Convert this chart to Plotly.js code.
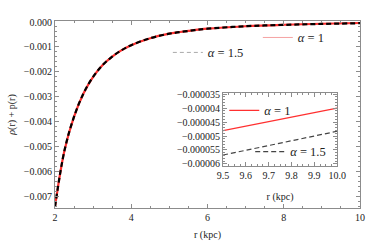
<!DOCTYPE html>
<html>
<head>
<meta charset="utf-8">
<script src="https://cdn.plot.ly/plotly-3.0.1.min.js"></script>
<style>html,body{margin:0;padding:0;background:#fff;}#chart{width:382px;height:247px;}</style>
</head>
<body>
<div id="chart"></div>
<script>
// main panel data
const rMain = [2, 2.25, 2.5, 2.75, 3, 3.25, 3.5, 3.75, 4, 4.5, 5, 5.5, 6, 7, 8, 9, 10];
const alpha1Main = [-0.00742, -0.00515, -0.00380, -0.00286, -0.00220, -0.00173, -0.00139, -0.00113, -0.00093, -0.00065, -0.00047, -0.00036, -0.00027, -0.00017, -0.00011, -0.00007, -0.00004];
const alpha15Main = [-0.00742, -0.00515, -0.00380, -0.00286, -0.00220, -0.00173, -0.00139, -0.00113, -0.00093, -0.00065, -0.00047, -0.00036, -0.00027, -0.00017, -0.000115, -0.000078, -0.000048];
// inset data
const rInset = [9.5, 9.6, 9.7, 9.8, 9.9, 10.0];
const alpha1Inset = [-0.0000481, -0.0000465, -0.0000448, -0.0000432, -0.0000416, -0.0000400];
const alpha15Inset = [-0.0000568, -0.0000551, -0.0000534, -0.0000517, -0.0000500, -0.0000483];
const insetYTicks = [-0.000035, -0.00004, -0.000045, -0.00005, -0.000055, -0.00006];
const insetYLabels = ['\u22120.000035', '\u22120.00004', '\u22120.000045', '\u22120.00005', '\u22120.000055', '\u22120.00006'];
const mainXTicks = [2, 4, 6, 8, 10];
const insetXTicks = [9.5, 9.6, 9.7, 9.8, 9.9, 10.0];

const serif = 'Liberation Serif, Times New Roman, serif';
const frame = '#8c8c8c';
const red = '#ff3030';

const traces = [
  // thin legend-key traces (lie under the thick curves)
  {x: rMain, y: alpha1Main, type: 'scatter', mode: 'lines', name: '<i>α</i> = 1',
   line: {color: '#f5a3a3', width: 1, shape: 'spline'}, legend: 'legend', xaxis: 'x', yaxis: 'y'},
  {x: rMain, y: alpha15Main, type: 'scatter', mode: 'lines', name: '<i>α</i> = 1.5',
   line: {color: '#aaaaaa', width: 1, dash: '4px,3px', shape: 'spline'}, legend: 'legend2', xaxis: 'x', yaxis: 'y'},
  // visible main curves
  {x: rMain, y: alpha1Main, type: 'scatter', mode: 'lines', showlegend: false,
   line: {color: red, width: 2.2, shape: 'spline'}, xaxis: 'x', yaxis: 'y'},
  {x: rMain, y: alpha15Main, type: 'scatter', mode: 'lines', showlegend: false,
   line: {color: '#000', width: 2.2, dash: '5px,3px', shape: 'spline'}, xaxis: 'x', yaxis: 'y'},
  // inset
  {x: rInset, y: alpha1Inset, type: 'scatter', mode: 'lines', name: '<i>α</i> = 1',
   line: {color: red, width: 1.2}, legend: 'legend3', xaxis: 'x2', yaxis: 'y2'},
  {x: rInset, y: alpha15Inset, type: 'scatter', mode: 'lines', name: '<i>α</i> = 1.5',
   line: {color: '#444', width: 1.2, dash: '5px,3px'}, legend: 'legend4', xaxis: 'x2', yaxis: 'y2'}
];

function leg(x, y, size) {
  return {x: x, y: y, xanchor: 'left', yanchor: 'middle', bgcolor: 'rgba(0,0,0,0)',
    font: {family: serif, size: size, color: '#222'}, itemwidth: 30, tracegroupgap: 0};
}

const axisBase = {
  showgrid: false, zeroline: false, showline: true, linecolor: frame, linewidth: 1,
  mirror: 'ticks', ticks: 'inside', tickcolor: frame, ticklen: 4, tickwidth: 1,
  tickfont: {family: serif, size: 10, color: '#222'}
};

const layout = {
  width: 382, height: 247,
  margin: {l: 55, r: 22, t: 21, b: 39},
  paper_bgcolor: '#fff', plot_bgcolor: '#fff',
  showlegend: true,
  xaxis: Object.assign({}, axisBase, {
    range: [2, 10], tickvals: mainXTicks, domain: [0, 1], anchor: 'y',
    minor: {dtick: 0.5, ticks: 'inside', ticklen: 2, tickcolor: frame},
    title: {text: 'r (kpc)', font: {family: serif, size: 10, color: '#222'}, standoff: 8}
  }),
  yaxis: Object.assign({}, axisBase, {
    range: [-0.00747, 0.00004], dtick: 0.001, tick0: 0, tickformat: '.3f', domain: [0, 1], anchor: 'x',
    minor: {dtick: 0.0002, ticks: 'inside', ticklen: 2, tickcolor: frame},
    title: {text: '<i>ρ</i>(r) + p(r)', font: {family: serif, size: 10, color: '#222'}, standoff: 6}
  }),
  xaxis2: Object.assign({}, axisBase, {
    range: [9.5, 10], tickvals: insetXTicks, tickformat: '.1f', domain: [0.551, 0.925], anchor: 'y2',
    minor: {dtick: 0.025, ticks: 'inside', ticklen: 2, tickcolor: frame},
    title: {text: 'r (kpc)', font: {family: serif, size: 10, color: '#222'}, standoff: 13}
  }),
  yaxis2: Object.assign({}, axisBase, {
    range: [-0.0000607, -0.0000346], tickvals: insetYTicks, ticktext: insetYLabels, domain: [0.225, 0.615], anchor: 'x2',
    minor: {dtick: 0.000001, ticks: 'inside', ticklen: 2, tickcolor: frame}
  }),
  legend: leg(0.665, 0.91, 12.5),
  legend2: leg(0.37, 0.83, 12.5),
  legend3: leg(0.555, 0.52, 12.5),
  legend4: leg(0.64, 0.30, 12.5)
};

Plotly.newPlot('chart', traces, layout, {displayModeBar: false, staticPlot: true});
</script>
</body>
</html>
